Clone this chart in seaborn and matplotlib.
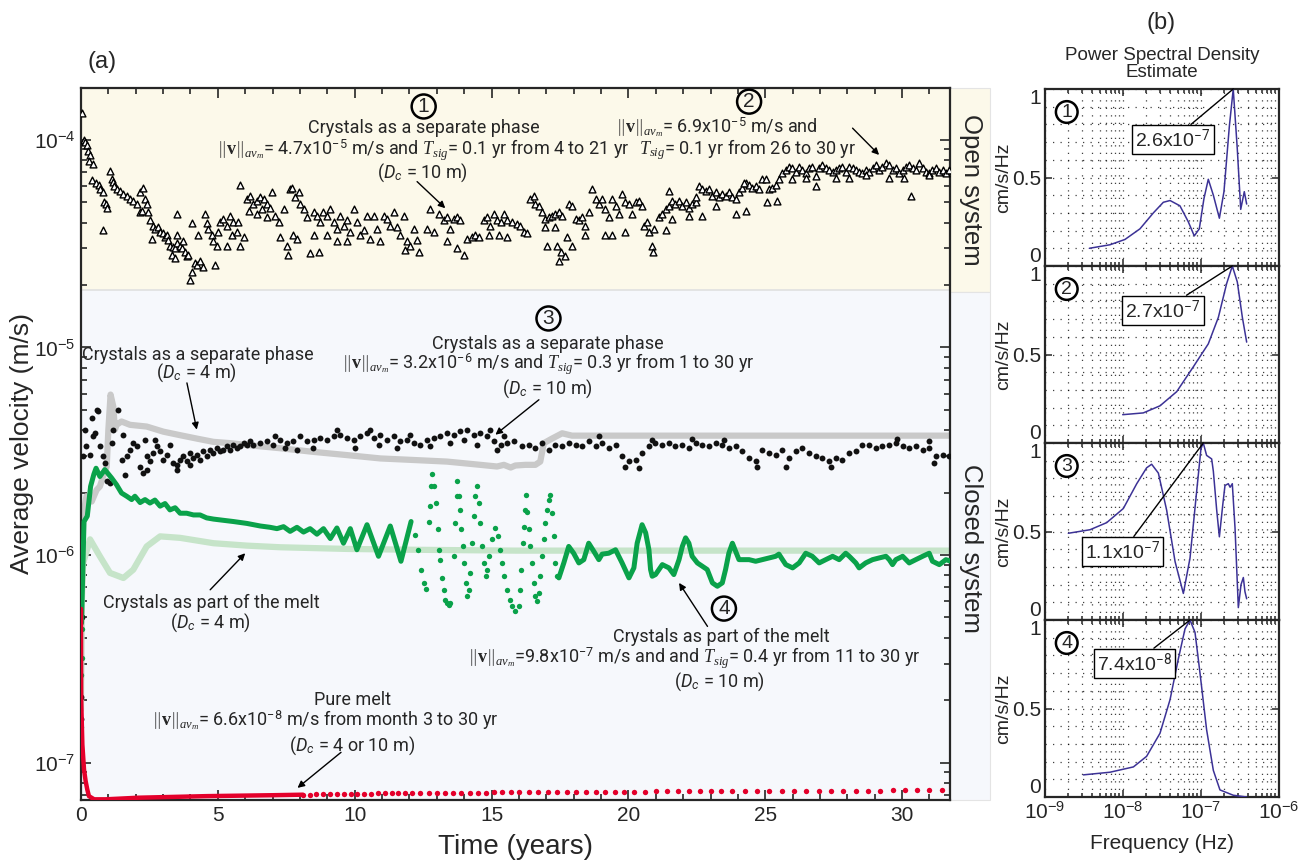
import numpy as np
import seaborn as sns
import matplotlib.pyplot as plt
from matplotlib.patches import Rectangle
from matplotlib.ticker import MultipleLocator, LogLocator, NullFormatter, FixedLocator, FixedFormatter

# ---------------- panel (a) data ----------------
# open system, crystals as a separate phase, Dc = 10 m  -> (t [yr], v [1e-5 m/s])
open_pts = [
    (0.02, 13.5), (0.10, 10.0), (0.16, 9.8), (0.22, 9.5), (0.27, 8.8), (0.33, 8.5), (0.30, 7.9), (0.45, 7.7),
    (0.39, 6.4), (0.55, 6.2), (0.65, 6.1), (0.70, 5.8), (0.80, 5.6), (0.85, 5.0), (0.90, 4.9), (0.95, 4.7), (0.81, 3.7),
    (1.06, 7.1), (1.12, 6.45), (1.18, 6.3), (1.22, 6.0), (1.30, 5.8), (1.42, 5.7), (1.55, 5.5), (1.67, 5.4),
    (1.79, 5.2), (1.91, 5.1), (2.03, 4.9), (2.16, 5.6), (2.28, 5.9), (2.34, 5.2), (2.40, 4.9), (2.16, 4.5),
    (2.22, 4.55), (2.46, 4.5),
    (2.52, 4.1), (2.64, 3.87), (2.70, 3.73), (2.83, 3.8), (2.89, 3.6), (3.01, 3.55), (3.07, 3.42), (3.13, 3.48),
    (2.58, 3.35), (3.19, 3.3), (3.25, 3.1), (3.37, 3.06), (3.44, 3.0), (3.50, 3.18), (3.31, 2.79), (3.44, 2.7), (3.50, 3.48),
    (3.62, 3.1), (3.68, 3.0), (3.74, 3.25), (3.80, 2.9), (3.86, 2.75), (3.92, 2.79), (3.98, 2.12), (4.05, 2.3),
    (4.17, 2.55), (4.23, 2.5), (4.35, 2.6), (4.47, 2.45), (4.53, 4.4), (4.05, 4.0), (4.29, 3.48), (4.59, 4.0),
    (3.50, 4.4), (4.90, 2.5),
    (4.65, 3.73), (4.78, 3.48), (4.84, 3.25), (4.96, 3.1), (5.08, 4.02), (5.20, 4.15), (5.33, 3.87), (5.45, 4.3),
    (5.51, 3.48), (5.57, 4.02), (5.69, 3.6), (5.81, 3.1), (5.94, 3.4), (5.75, 4.02), (5.33, 3.1), (5.02, 3.6),
    (6.06, 5.2), (6.18, 5.4), (6.30, 4.9), (6.42, 5.1), (6.55, 5.3), (6.67, 5.2), (6.79, 4.9), (6.91, 4.7),
    (6.97, 5.6), (5.81, 6.1), (6.12, 4.55), (6.42, 4.4), (6.79, 4.25), (6.61, 4.65),
    (7.09, 4.3), (7.22, 4.02), (7.28, 3.42), (7.40, 4.65), (7.52, 3.1), (7.58, 2.79), (7.64, 5.79), (7.70, 5.9),
    (7.83, 5.3), (7.95, 5.6), (8.01, 4.9), (7.76, 3.48), (7.89, 3.35),
    (8.13, 4.65), (8.25, 4.25), (8.37, 2.85), (8.50, 4.5), (8.62, 4.3), (8.68, 2.9), (8.74, 4.02), (8.86, 4.5),
    (8.98, 4.3), (9.11, 4.65), (9.23, 4.02), (9.35, 3.73), (9.47, 4.3), (9.60, 3.87), (9.72, 4.1), (9.84, 3.6),
    (9.96, 4.65), (8.50, 3.48), (8.98, 3.48), (9.35, 3.25), (9.72, 3.25),
    (10.08, 4.02), (10.20, 3.48), (10.33, 3.67), (10.45, 4.3), (10.57, 3.35), (10.69, 4.3), (10.81, 3.73),
    (10.94, 3.25), (11.06, 4.3), (11.18, 4.15), (11.30, 3.87), (11.42, 4.5), (11.55, 3.8), (11.67, 3.48),
    (11.79, 4.3), (11.91, 3.25), (12.03, 3.1), (12.16, 3.73), (12.28, 3.3), (11.85, 2.95), (12.34, 2.9),
    (12.64, 3.73), (12.76, 4.65),
    (12.89, 3.6), (13.07, 4.4), (13.25, 4.1), (13.37, 4.25), (13.50, 3.73), (13.62, 4.15), (13.74, 4.25),
    (13.86, 4.1), (13.37, 3.25), (13.74, 3.0), (13.98, 2.79), (14.10, 3.35), (14.29, 3.42), (14.41, 3.48), (14.53, 3.42),
    (14.71, 4.1), (14.83, 4.25), (14.96, 3.87), (15.08, 4.4), (15.20, 4.1), (15.33, 4.02), (15.45, 4.4),
    (15.57, 4.1), (15.75, 4.02), (14.90, 3.48), (15.26, 3.48), (15.57, 3.42),
    (15.93, 3.95), (16.05, 3.87), (16.17, 3.6), (16.30, 3.55), (16.42, 5.2), (16.54, 5.4), (16.60, 4.9),
    (16.72, 4.82), (16.85, 4.5), (16.97, 4.15), (17.09, 4.25), (17.21, 4.3), (17.33, 4.4), (17.46, 4.5),
    (17.58, 4.3), (16.97, 3.8), (17.33, 3.8), (17.03, 3.1), (17.39, 3.1), (17.52, 2.9), (17.46, 2.6),
    (17.70, 2.75), (17.76, 3.42), (17.94, 3.1),
    (17.82, 4.9), (17.94, 4.82), (18.07, 4.15), (18.19, 4.1), (18.31, 4.25), (18.43, 3.87), (18.55, 4.5),
    (18.67, 5.79), (18.80, 5.2), (18.92, 4.9), (19.04, 5.2), (19.16, 4.65), (19.28, 4.25), (19.41, 5.2),
    (19.53, 4.82), (19.65, 4.4), (19.77, 5.5), (19.89, 5.0), (20.02, 4.9), (20.14, 4.4), (20.26, 5.0),
    (20.38, 5.1), (20.50, 4.82), (18.43, 3.48), (19.16, 3.48), (19.41, 3.48), (19.89, 3.6),
    (20.56, 3.87), (20.69, 4.02), (20.75, 3.6), (20.87, 3.1), (20.90, 2.9), (20.93, 3.73),
    (21.11, 4.25), (21.24, 4.4), (21.36, 4.65), (21.48, 4.82), (21.60, 5.1), (21.72, 4.9), (21.85, 5.1),
    (21.97, 4.82), (22.09, 5.0), (22.21, 4.7), (22.33, 4.9), (22.46, 5.0), (22.58, 6.0), (22.70, 5.79),
    (22.82, 5.7), (22.94, 5.79), (23.07, 5.4), (23.19, 5.6), (23.31, 5.3), (23.43, 5.5), (23.55, 5.4),
    (23.67, 5.6), (23.80, 5.3), (23.92, 5.2), (24.04, 5.6), (24.16, 5.9), (24.28, 6.2), (24.41, 6.1),
    (24.53, 5.9), (24.65, 6.0), (24.77, 5.79), (24.89, 6.45), (25.02, 6.45), (25.14, 5.79), (25.26, 5.9),
    (25.38, 6.1), (25.50, 6.45), (25.63, 6.94),
    (21.36, 3.67), (21.60, 4.15), (22.21, 4.3), (22.70, 4.3), (23.19, 4.82), (23.92, 4.4), (24.28, 4.55),
    (25.08, 5.0), (25.44, 5.1), (21.48, 5.7), (22.46, 5.3), (24.22, 6.2),
    (25.75, 7.15), (25.87, 7.43), (25.99, 7.3), (26.11, 7.0), (26.24, 7.43), (26.36, 7.15), (26.48, 6.94),
    (26.60, 7.3), (26.72, 7.43), (26.85, 6.7), (26.97, 7.3), (27.09, 7.6), (27.21, 7.3), (27.33, 7.15),
    (27.46, 7.0), (27.58, 7.15), (27.70, 7.3), (27.82, 7.43), (27.94, 7.0), (28.07, 7.43), (28.19, 7.3),
    (28.31, 7.15), (28.43, 7.0), (28.55, 6.94), (28.67, 7.15), (28.80, 7.0), (28.92, 7.3), (29.04, 7.6),
    (29.16, 7.15), (29.28, 7.43), (29.41, 7.75), (29.53, 7.6), (29.65, 7.15), (29.77, 7.3), (29.89, 6.94),
    (30.02, 7.15), (30.14, 7.43), (30.26, 7.6), (30.38, 7.3), (30.50, 7.15), (30.63, 7.75), (30.75, 7.3),
    (30.87, 7.0), (30.99, 6.94), (31.11, 7.15), (31.24, 7.3), (31.36, 7.0), (31.48, 7.15), (31.60, 6.94), (31.72, 7.15),
    (25.99, 6.45), (26.48, 6.55), (26.85, 6.0), (27.58, 6.55), (28.07, 6.55), (28.67, 6.8), (29.53, 6.55),
    (30.08, 6.55), (30.32, 5.4), (30.99, 6.8),
]

# closed system, crystals as a separate phase, Dc = 10 m -> (t [yr], v [1e-6 m/s])
sep10_pts = [
    (0.00, 0.163), (0.01, 0.208), (0.02, 0.5), (0.03, 1.2), (0.08, 2.99), (0.14, 4.02), (0.20, 3.34),
    (0.33, 3.05), (0.45, 3.73), (0.51, 3.87), (0.63, 4.92), (0.69, 3.34), (0.81, 2.99), (0.87, 2.77),
    (0.94, 2.27), (1.06, 2.22), (1.12, 3.46), (1.18, 4.02), (1.36, 5.01), (1.48, 2.88), (1.61, 2.44),
    (1.67, 2.99), (1.79, 3.22), (1.91, 3.46), (2.03, 3.34), (2.16, 2.67), (2.28, 2.48), (2.34, 3.59),
    (2.40, 2.99), (2.52, 2.83), (2.64, 3.10), (2.77, 3.34), (2.89, 3.16), (3.01, 2.88), (3.13, 3.05),
    (3.25, 3.40), (3.37, 2.77), (3.50, 2.72), (3.62, 2.88), (3.74, 2.99), (3.86, 2.83), (3.98, 3.10),
    (4.11, 2.94), (4.23, 3.05), (4.35, 2.88), (4.47, 3.16), (4.59, 2.99), (4.72, 3.22), (4.84, 3.10),
    (4.96, 3.28), (5.08, 3.16), (5.20, 3.22), (5.33, 3.34), (5.45, 3.22), (5.57, 3.40), (5.69, 3.28),
    (5.81, 3.34), (5.94, 3.46), (6.06, 3.40), (6.18, 3.53),
    (0.57, 5.01), (0.39, 4.57), (1.55, 3.80), (2.40, 2.58), (2.70, 3.59), (3.50, 2.58), (3.98, 2.72),
    (6.30, 3.40), (6.55, 3.46), (6.79, 3.53), (7.03, 3.40), (7.28, 3.59), (7.52, 3.46), (7.76, 3.53),
    (8.01, 3.73), (8.25, 3.53), (8.50, 3.59), (8.74, 3.66), (8.98, 3.59), (9.23, 3.73), (9.47, 3.80),
    (9.72, 3.66), (9.96, 3.59), (10.20, 3.73), (10.45, 3.87), (10.69, 3.66), (10.94, 3.80), (11.18, 3.59),
    (11.42, 3.73), (11.67, 3.53), (11.91, 3.59), (12.16, 3.46), (12.40, 3.40), (12.64, 3.59), (12.89, 3.66),
    (13.13, 3.73), (13.37, 3.87), (13.62, 3.80), (13.86, 3.94), (14.11, 4.02), (14.35, 3.80), (14.59, 3.87),
    (14.84, 3.73), (15.08, 3.53), (15.33, 3.40), (15.57, 3.46), (15.81, 3.53),
    (7.89, 3.22), (8.46, 3.28), (9.35, 4.02), (10.0, 3.28), (10.57, 4.02), (10.9, 3.40), (11.55, 3.28),
    (12.03, 3.80), (12.76, 3.34), (13.5, 3.46), (13.98, 3.59), (14.47, 3.40), (14.96, 4.02), (15.2, 3.22),
    (15.45, 3.73), (7.1, 3.73), (7.45, 3.28),
    (16.11, 3.34), (16.36, 3.40), (16.60, 3.28), (16.85, 3.46), (17.09, 3.22), (17.33, 3.40), (17.58, 3.34),
    (17.82, 3.46), (18.07, 3.40), (18.31, 3.34), (18.55, 3.53), (18.80, 3.34), (19.04, 3.46), (19.28, 3.28),
    (19.53, 3.40), (19.77, 2.99), (20.02, 2.83), (20.26, 2.88), (20.50, 3.10), (20.75, 3.34), (20.99, 3.46),
    (21.24, 3.40), (21.48, 3.46), (21.72, 3.34), (21.97, 3.40), (22.21, 3.28), (22.46, 3.46), (22.70, 3.40),
    (22.94, 3.34), (23.19, 3.46), (23.43, 3.40), (23.67, 3.28), (23.92, 3.34), (24.16, 3.16), (24.41, 2.94),
    (24.65, 2.83), (24.89, 3.22), (25.14, 3.10), (25.38, 3.05), (25.63, 3.22), (25.87, 2.94), (26.11, 3.16),
    (26.36, 3.28), (26.60, 3.10), (26.85, 2.99), (27.09, 2.94), (27.33, 2.83), (27.58, 2.94), (27.82, 2.88),
    (28.07, 3.10), (28.31, 3.16), (28.55, 3.40), (28.80, 3.40), (29.04, 3.28), (29.28, 3.34), (29.53, 3.40),
    (29.77, 3.46), (30.02, 3.34), (30.26, 3.28), (30.50, 3.34), (30.75, 3.22), (30.99, 3.28), (31.24, 2.99),
    (31.48, 3.05), (31.72, 2.99),
    (19.89, 2.67), (20.38, 2.62), (24.7, 2.67), (25.75, 2.67), (27.4, 2.67), (18.92, 3.73), (20.87, 3.59),
    (22.33, 3.64), (23.5, 3.59), (29.8, 3.64), (31.0, 3.53), (31.17, 2.77),
]

# closed, crystals as a separate phase, Dc = 4 m (grey), v in 1e-6 m/s
sep4_t = [0.00, 0.02, 0.08, 0.20, 0.39, 0.57, 0.69, 0.81, 0.94, 1.00, 1.08, 1.18, 1.24, 1.30, 1.48, 1.79,
          2.40, 3.01, 3.62, 4.23, 4.84, 5.45, 6.06, 7.28, 8.50, 9.72, 10.94, 12.16, 13.37, 14.59, 15.20,
          15.45, 15.70, 15.87, 16.24, 16.60, 16.78, 16.91, 17.21, 17.58, 17.94, 20.0, 25.0, 31.78]
sep4_v = [0.25, 0.60, 1.54, 1.92, 1.81, 2.06, 2.14, 2.39, 2.67, 4.02, 5.93, 5.20, 4.02, 4.24, 4.40, 4.24,
          4.16, 3.93, 3.78, 3.64, 3.51, 3.46, 3.39, 3.27, 3.14, 3.03, 2.92, 2.87, 2.82, 2.72, 2.67,
          2.72, 2.64, 2.70, 2.72, 2.72, 2.82, 3.46, 3.64, 3.86, 3.76, 3.76, 3.76, 3.76]

# closed, crystals as part of the melt, Dc = 4 m (light green), v in 1e-6 m/s
melt4_t = [0.00, 0.01, 0.03, 0.08, 0.33, 0.69, 1.06, 1.55, 1.91, 2.40, 2.89, 3.62, 4.84, 6.06, 7.28,
           9.72, 12.16, 15.87, 20.0, 25.0, 31.78]
melt4_v = [0.18, 0.37, 0.60, 0.916, 1.19, 0.986, 0.82, 0.775, 0.85, 1.10, 1.23, 1.21, 1.14, 1.11, 1.09,
           1.07, 1.06, 1.05, 1.05, 1.05, 1.05]

# closed, crystals as part of the melt, Dc = 10 m (green), v in 1e-6 m/s
melt10_a = [
    (0.02, 0.47), (0.11, 1.45), (0.23, 1.54), (0.35, 2.14), (0.47, 2.45), (0.55, 2.62), (0.69, 2.39),
    (0.87, 2.58), (1.12, 2.35), (1.30, 2.18), (1.48, 1.99), (1.67, 1.92), (1.85, 1.85), (1.97, 1.92),
    (2.16, 1.79), (2.34, 1.85), (2.52, 1.78), (2.70, 1.84), (2.89, 1.72), (3.07, 1.77), (3.25, 1.65),
    (3.44, 1.69), (3.62, 1.59), (3.86, 1.59), (4.11, 1.56), (4.35, 1.56), (4.59, 1.51), (4.84, 1.49),
    (5.20, 1.47), (5.57, 1.45), (6.06, 1.42), (6.55, 1.38), (6.91, 1.36), (7.16, 1.34), (7.40, 1.37),
    (7.64, 1.30), (7.89, 1.36), (8.13, 1.29), (8.37, 1.34), (8.62, 1.26), (8.86, 1.34), (9.11, 1.20),
    (9.35, 1.35), (9.59, 1.14), (9.84, 1.34), (10.08, 1.06), (10.45, 1.40), (10.87, 0.986), (11.30, 1.38),
    (11.69, 0.933), (12.06, 1.45),
]
melt10_dots = [
    (0.00, 0.149), (0.01, 0.265), (0.02, 0.32), (0.03, 0.44),
    (12.22, 1.25), (12.31, 1.06), (12.42, 0.851), (12.52, 0.734), (12.62, 0.686), (12.70, 1.45), (12.76, 1.72),
    (12.80, 2.14), (12.84, 2.47), (12.91, 2.14), (12.98, 1.78), (13.03, 1.33), (13.08, 1.06), (13.13, 0.95),
    (13.19, 0.776), (13.25, 0.681), (13.31, 0.61), (13.37, 0.585), (13.44, 0.577), (13.50, 0.588),
    (13.62, 0.986), (13.68, 1.43), (13.72, 1.92), (13.75, 2.27), (13.80, 1.92), (13.84, 1.65), (13.89, 1.33),
    (13.94, 1.10), (13.98, 0.916), (14.05, 0.734), (14.11, 0.633), (14.17, 0.681), (14.23, 0.82),
    (14.29, 1.14), (14.35, 1.54), (14.41, 1.92), (14.47, 2.14), (14.53, 1.78), (14.59, 1.43), (14.66, 1.10),
    (14.72, 0.916), (14.78, 0.79), (14.84, 0.851), (14.90, 0.986), (15.02, 1.19), (15.14, 1.35),
    (15.23, 1.23), (15.30, 1.06), (15.39, 0.916), (15.47, 0.79), (15.57, 0.681), (15.67, 0.61),
    (15.76, 0.567), (15.87, 0.536), (15.99, 0.567), (16.04, 0.681), (16.09, 0.851), (16.14, 1.14),
    (16.17, 1.37), (16.21, 1.65), (16.25, 1.94), (16.30, 1.62), (16.36, 1.33), (16.42, 1.10), (16.48, 0.916),
    (16.54, 0.734), (16.60, 0.633), (16.66, 0.599), (16.72, 0.656), (16.78, 0.79), (16.85, 0.986),
    (16.91, 1.19), (16.97, 1.43), (17.03, 1.65), (17.09, 1.85), (17.15, 1.95), (17.21, 1.59), (17.27, 1.23),
    (17.33, 0.916), (17.39, 0.79),
]
melt10_b = [
    (17.46, 0.776), (17.64, 0.916), (17.82, 1.10), (18.00, 1.02), (18.19, 0.916), (18.37, 0.95),
    (18.55, 1.14), (18.74, 1.04), (18.92, 0.95), (19.04, 1.01), (19.28, 1.02), (19.53, 1.06), (19.77, 0.916),
    (20.02, 0.776), (20.20, 0.867), (20.32, 1.14), (20.50, 1.40), (20.63, 1.28), (20.75, 1.06), (20.81, 0.851),
    (20.87, 0.79), (20.99, 0.805), (21.24, 0.899), (21.48, 0.867), (21.66, 0.805), (21.85, 0.95), (21.97, 1.10),
    (22.09, 1.21), (22.21, 1.14), (22.33, 0.986), (22.52, 0.916), (22.70, 0.883), (22.88, 0.851), (23.07, 0.734),
    (23.25, 0.707), (23.43, 0.734), (23.55, 0.851), (23.67, 1.02), (23.80, 1.14), (23.92, 1.04), (24.04, 0.95),
    (24.41, 0.95), (24.65, 0.933), (24.89, 0.95), (25.14, 0.968), (25.38, 0.986), (25.50, 1.01), (25.63, 0.95),
    (25.75, 0.899), (26.00, 0.867), (26.24, 0.916), (26.48, 1.02), (26.72, 0.986), (26.97, 0.916), (27.21, 0.95),
    (27.46, 0.986), (27.70, 0.95), (27.94, 1.02), (28.07, 0.986), (28.31, 0.916), (28.43, 0.867), (28.67, 0.916),
    (28.92, 0.95), (29.16, 0.968), (29.41, 0.986), (29.53, 0.95), (29.65, 0.899), (29.77, 0.95), (30.02, 0.986),
    (30.26, 0.916), (30.50, 0.95), (30.75, 0.986), (30.99, 1.02), (31.11, 0.933), (31.36, 0.899), (31.60, 0.95),
    (31.78, 0.933),
]

# pure melt (red), v in 1e-8 m/s
pure_line_t = [0.0, 0.003, 0.006, 0.01, 0.05, 0.11, 0.17, 0.23, 0.29, 0.48, 0.9, 2.1, 4.6, 7.0, 8.1]
pure_line_v = [55, 30, 22.4, 19.4, 12.2, 9.25, 8.13, 7.41, 6.89, 6.65, 6.65, 6.77, 6.89, 6.96, 7.0]
pure_dot_t = [8.1, 8.35, 8.6, 8.85, 9.1, 9.35, 9.6, 9.85, 10.1, 10.35,
              10.6, 10.85, 11.1, 11.35, 11.6, 11.85, 12.1, 12.4, 12.7, 13.0,
              13.3, 13.6, 13.9, 14.2, 14.5, 14.8, 15.1, 15.4, 15.7, 16.0,
              16.35, 16.7, 17.05, 17.4, 17.75, 18.1, 18.45, 18.8, 19.15, 19.5,
              19.85, 20.2, 20.6, 21.0, 21.4, 21.8, 22.2, 22.6, 23.0, 23.4,
              23.8, 24.25, 24.7, 25.15, 25.6, 26.05, 26.5, 26.95, 27.4, 27.85,
              28.3, 28.75, 29.2, 29.65, 30.1, 30.55, 31.0, 31.45]
pure_dot_v = [7.0, 7.0, 7.02, 7.02, 7.04, 7.04, 7.05, 7.06, 7.08, 7.08,
              7.08, 7.1, 7.1, 7.1, 7.12, 7.12, 7.12, 7.14, 7.14, 7.14,
              7.15, 7.15, 7.16, 7.16, 7.17, 7.17, 7.18, 7.18, 7.18, 7.2,
              7.2, 7.2, 7.21, 7.21, 7.22, 7.22, 7.22, 7.23, 7.23, 7.24,
              7.24, 7.25, 7.25, 7.26, 7.26, 7.26, 7.27, 7.27, 7.28, 7.28,
              7.28, 7.29, 7.29, 7.3, 7.3, 7.3, 7.31, 7.31, 7.32, 7.32,
              7.32, 7.33, 7.33, 7.34, 7.34, 7.35, 7.35, 7.36]

# ---------------- panel (b) data: normalised PSD ----------------
psd1_f = [3.70e-9, 6.81e-9, 1.06e-8, 1.65e-8, 2.45e-8, 3.29e-8, 4.01e-8, 5.37e-8, 6.87e-8, 8.20e-8, 9.51e-8,
          1.09e-7, 1.24e-7, 1.44e-7, 1.72e-7, 1.97e-7, 2.31e-7, 2.59e-7, 2.92e-7, 3.23e-7, 3.59e-7, 3.85e-7]
psd1_p = [0.10, 0.12, 0.15, 0.21, 0.30, 0.36, 0.37, 0.34, 0.25, 0.17, 0.21,
          0.38, 0.49, 0.40, 0.27, 0.42, 0.79, 1.00, 0.66, 0.32, 0.42, 0.35]
psd2_f = [9.91e-9, 1.82e-8, 2.98e-8, 4.88e-8, 7.96e-8, 1.24e-7, 1.67e-7, 2.13e-7, 2.52e-7, 2.92e-7, 3.39e-7, 3.85e-7]
psd2_p = [0.16, 0.17, 0.21, 0.29, 0.43, 0.56, 0.71, 0.90, 1.00, 0.91, 0.71, 0.57]
psd3_f = [1.99e-9, 3.78e-9, 6.18e-9, 1.01e-8, 1.50e-8, 2.01e-8, 2.33e-8, 2.84e-8, 3.63e-8, 4.65e-8, 5.94e-8,
          7.23e-8, 8.81e-8, 1.00e-7, 1.07e-7, 1.18e-7, 1.37e-7, 1.44e-7, 1.59e-7, 1.72e-7, 1.90e-7, 2.03e-7,
          2.24e-7, 2.36e-7, 2.52e-7, 2.73e-7, 3.01e-7, 3.26e-7, 3.49e-7, 3.66e-7, 3.85e-7]
psd3_p = [0.49, 0.51, 0.55, 0.63, 0.77, 0.86, 0.88, 0.83, 0.62, 0.33, 0.15,
          0.35, 0.73, 0.97, 1.00, 0.93, 0.91, 0.84, 0.62, 0.47, 0.65, 0.76,
          0.77, 0.75, 0.77, 0.52, 0.07, 0.20, 0.24, 0.16, 0.12]
psd4_f = [3.10e-9, 6.81e-9, 1.36e-8, 2.01e-8, 2.98e-8, 4.01e-8, 5.12e-8, 6.24e-8, 7.23e-8, 8.38e-8, 9.71e-8,
          1.18e-7, 1.44e-7, 1.75e-7, 2.59e-7, 3.85e-7]
psd4_p = [0.125, 0.14, 0.17, 0.23, 0.36, 0.55, 0.78, 0.95, 1.00, 0.93, 0.70, 0.38, 0.15, 0.04, 0.01, 0.0]
peak_labels = ["2.6x10$^{-7}$", "2.7x10$^{-7}$", "1.1x10$^{-7}$", "7.4x10$^{-8}$"]
peak_xy = [(2.59e-7, 1.0), (2.52e-7, 1.0), (1.07e-7, 1.0), (7.23e-8, 1.0)]
label_xy = [(4.38e-8, 0.715), (3.26e-8, 0.75), (9.9e-9, 0.387), (1.41e-8, 0.756)]

# ---------------- style ----------------
sns.set_style("ticks")
plt.rcParams["font.family"] = ["Liberation Sans", "DejaVu Sans"]
plt.rcParams["mathtext.fontset"] = "custom"
plt.rcParams["mathtext.rm"] = "Roboto"
plt.rcParams["mathtext.it"] = "Liberation Serif:italic"
plt.rcParams["mathtext.bf"] = "Liberation Serif:bold"
plt.rcParams["mathtext.sf"] = "Roboto:italic"
NARROW = ["Roboto", "DejaVu Sans"]

CREAM = "#fcf9ea"
PALE = "#f6f8fc"
GREEN = "#0aa24a"
RED = "#e4002b"
PSD = "#3c3296"

W, H = 1299, 867
fig = plt.figure(figsize=(W / 100, H / 100), dpi=100)

# ---------------- panel (a) ----------------
ax = fig.add_axes([81 / W, 1 - 800 / H, 869 / W, 712 / H])
ax.set_yscale("log")
ylo, yhi, ysplit = 6.6e-8, 1.78e-4, 1.9e-5
ax.axhspan(ysplit, yhi, color=CREAM, zorder=0, lw=0)
ax.axhspan(ylo, ysplit, color=PALE, zorder=0, lw=0)
ax.axhline(ysplit, color="#e0e0e0", lw=1.2, zorder=0.5)

# side strips for the open / closed labels
fig.add_artist(Rectangle((950 / W, 1 - 292 / H), 40 / W, 204 / H, transform=fig.transFigure,
                         fc=CREAM, ec="#e4e4e4", lw=0.8, zorder=-1))
fig.add_artist(Rectangle((950 / W, 1 - 800 / H), 40 / W, 508 / H, transform=fig.transFigure,
                         fc=PALE, ec="#e4e4e4", lw=0.8, zorder=-1))

ot, ov = zip(*open_pts)
sns.scatterplot(x=list(ot), y=np.array(ov) * 1e-5, marker="^", s=24, color="white",
                edgecolor="black", linewidth=1.0, ax=ax, zorder=3, legend=False)

sns.lineplot(x=sep4_t, y=np.array(sep4_v) * 1e-6, color="#c9c9c9", lw=4.5, sort=False,
             estimator=None, ax=ax, zorder=2, solid_capstyle="round")
sns.lineplot(x=melt4_t, y=np.array(melt4_v) * 1e-6, color="#c6e4c9", lw=4.5, sort=False,
             estimator=None, ax=ax, zorder=2, solid_capstyle="round")

st, sv = zip(*sep10_pts)
sns.scatterplot(x=list(st), y=np.array(sv) * 1e-6, color="#111111", s=18, linewidth=0,
                ax=ax, zorder=4, legend=False)

for seg in (melt10_a, melt10_b):
    gt, gv = zip(*seg)
    sns.lineplot(x=list(gt), y=np.array(gv) * 1e-6, color=GREEN, lw=3.6, sort=False,
                 estimator=None, ax=ax, zorder=5, solid_capstyle="round")
dt, dv = zip(*melt10_dots)
sns.scatterplot(x=list(dt), y=np.array(dv) * 1e-6, color=GREEN, s=15, linewidth=0,
                ax=ax, zorder=5, legend=False)

sns.lineplot(x=pure_line_t, y=np.array(pure_line_v) * 1e-8, color=RED, lw=3.2, sort=False,
             estimator=None, ax=ax, zorder=6, solid_capstyle="round")
sns.scatterplot(x=pure_dot_t, y=np.array(pure_dot_v) * 1e-8, color=RED, s=15, linewidth=0,
                ax=ax, zorder=6, legend=False)

ax.set_xlim(0, 31.75)
ax.set_ylim(ylo, yhi)
ax.xaxis.set_major_locator(MultipleLocator(5))
ax.xaxis.set_minor_locator(MultipleLocator(1))
ax.yaxis.set_major_locator(LogLocator(base=10, numticks=12))
ax.yaxis.set_minor_locator(LogLocator(base=10, subs=np.arange(2, 10), numticks=12))
ax.yaxis.set_minor_formatter(NullFormatter())
ax.tick_params(which="both", direction="in", top=True, right=True, labelsize=15, width=1.2)
ax.tick_params(which="major", length=7, pad=4)
ax.tick_params(which="minor", length=4)
for sp in ax.spines.values():
    sp.set_linewidth(1.6)
ax.set_xlabel("Time (years)", fontsize=20, labelpad=7)
ax.set_ylabel("Average velocity (m/s)", fontsize=19, labelpad=0)

VNORM = r"$\Vert\mathbf{v}\Vert_{av_{m}}$"
DC = r"$\mathsf{D}_{\mathsf{c}}$"


def txt(x, y, s, size=13):
    ax.text(x, y, s, ha="center", va="center", fontsize=size, family=NARROW, zorder=8)


def circ(x, y, n, size=15):
    ax.text(x, y, n, ha="center", va="center", fontsize=size, zorder=8,
            bbox=dict(boxstyle="circle,pad=0.12", fc="none", ec="black", lw=1.8))


def arrow(tail, head):
    ax.annotate("", xy=head, xytext=tail, zorder=8,
                arrowprops=dict(arrowstyle="-|>", color="black", lw=1.0, mutation_scale=10,
                                shrinkA=0, shrinkB=0))


# 1
circ(12.52, 1.45e-4, "1")
txt(12.51, 1.14e-4, "Crystals as a separate phase")
txt(12.49, 8.95e-5, VNORM + r"= 4.7x10$^{-5}$ m/s and $T_{sig}$= 0.1 yr from 4 to 21 yr")
txt(12.49, 6.95e-5, "(" + DC + " = 10 m)")
arrow((12.28, 6.3e-5), (13.31, 4.69e-5))
# 2
circ(24.41, 1.53e-4, "2")
txt(23.22, 1.16e-4, VNORM + r"= 6.9x10$^{-5}$ m/s and")
txt(24.35, 8.95e-5, r"$T_{sig}$= 0.1 yr from 26 to 30 yr")
arrow((28.19, 1.14e-4), (29.16, 8.47e-5))
# 3
circ(17.08, 1.38e-5, "3")
txt(17.05, 1.04e-5, "Crystals as a separate phase")
txt(17.06, 8.3e-6, VNORM + r"= 3.2x10$^{-6}$ m/s and $T_{sig}$= 0.3 yr from 1 to 30 yr")
txt(17.06, 6.3e-6, "(" + DC + " = 10 m)")
arrow((16.73, 5.6e-6), (15.14, 3.8e-6))
# Dc = 4 m labels
txt(4.26, 9.2e-6, "Crystals as a separate phase")
txt(4.23, 7.53e-6, "(" + DC + " = 4 m)")
arrow((3.87, 6.75e-6), (4.23, 4.02e-6))
txt(4.75, 5.87e-7, "Crystals as part of the melt")
txt(4.72, 4.71e-7, "(" + DC + " = 4 m)")
arrow((4.72, 6.8e-7), (6.0, 1.02e-6))
# 4
circ(23.49, 5.52e-7, "4")
txt(23.39, 4.05e-7, "Crystals as part of the melt")
txt(22.4, 3.17e-7, VNORM + r"=9.8x10$^{-7}$ m/s and and $T_{sig}$= 0.4 yr from 11 to 30 yr")
txt(23.32, 2.45e-7, "(" + DC + " = 10 m)")
arrow((22.89, 4.53e-7), (21.85, 7.34e-7))
# pure melt
txt(9.92, 2.01e-7, "Pure melt")
txt(8.94, 1.61e-7, VNORM + r"= 6.6x10$^{-8}$ m/s from month 3 to 30 yr")
txt(9.89, 1.21e-7, "(" + DC + " = 4 or 10 m)")
arrow((9.5, 1.12e-7), (7.91, 7.55e-8))

fig.text(971 / W, 1 - 190 / H, "Open system", rotation=270, ha="center", va="center", fontsize=18.5)
fig.text(971 / W, 1 - 548 / H, "Closed system", rotation=270, ha="center", va="center", fontsize=18.5)
fig.text(102 / W, 1 - 62 / H, "(a)", ha="center", va="center", fontsize=17)

# ---------------- panel (b) ----------------
fig.text(1161 / W, 1 - 23 / H, "(b)", ha="center", va="center", fontsize=17)
fig.text(1162 / W, 1 - 64 / H, "Power Spectral Density\nEstimate", ha="center", va="center",
         fontsize=13.5, linespacing=0.95)

curves = [(psd1_f, psd1_p), (psd2_f, psd2_p), (psd3_f, psd3_p), (psd4_f, psd4_p)]
ph = 177
for i, (f, p) in enumerate(curves):
    top = 89 + i * ph
    axb = fig.add_axes([1045 / W, 1 - (top + ph) / H, 234 / W, ph / H])
    axb.set_xscale("log")
    sns.lineplot(x=f, y=p, color=PSD, lw=1.1, sort=False, estimator=None, ax=axb, zorder=3)
    axb.set_xlim(1e-9, 1e-6)
    axb.set_ylim(0, 1)
    axb.yaxis.set_major_locator(FixedLocator([0, 0.5, 1]))
    axb.yaxis.set_major_formatter(FixedFormatter(["0", "0.5", "1"]))
    axb.yaxis.set_minor_locator(MultipleLocator(0.1))
    axb.xaxis.set_major_locator(LogLocator(base=10, numticks=10))
    axb.xaxis.set_minor_locator(LogLocator(base=10, subs=np.arange(2, 10), numticks=10))
    axb.xaxis.set_minor_formatter(NullFormatter())
    axb.grid(which="both", color="black", lw=0.9, ls=(0, (1, 5)), alpha=0.75)
    axb.tick_params(which="both", direction="in", top=True, right=True, labelsize=15, width=1.1)
    axb.tick_params(which="major", length=5, pad=3)
    axb.tick_params(axis="x", which="minor", length=3)
    axb.tick_params(axis="y", which="minor", length=0)
    yt = axb.yaxis.get_major_ticks()
    yt[0].label1.set_verticalalignment("bottom")
    yt[2].label1.set_verticalalignment("top")
    for sp in axb.spines.values():
        sp.set_linewidth(1.6)
    axb.set_ylabel("cm/s/Hz", fontsize=14, labelpad=0)
    if i < 3:
        axb.tick_params(labelbottom=False)
        axb.set_xlabel("")
    else:
        axb.set_xlabel("Frequency (Hz)", fontsize=15, labelpad=8)
    axb.text(1.9e-9, 0.87, str(i + 1), ha="center", va="center", fontsize=14, zorder=6,
             bbox=dict(boxstyle="circle,pad=0.12", fc="white", ec="black", lw=1.8))
    axb.annotate(peak_labels[i], xy=peak_xy[i], xytext=label_xy[i], ha="center", va="center",
                 fontsize=14, zorder=6,
                 bbox=dict(boxstyle="square,pad=0.15", fc="white", ec="black", lw=1.0),
                 arrowprops=dict(arrowstyle="-", color="black", lw=1.0, shrinkA=0, shrinkB=0))

fig.savefig("out.png", dpi=100)
